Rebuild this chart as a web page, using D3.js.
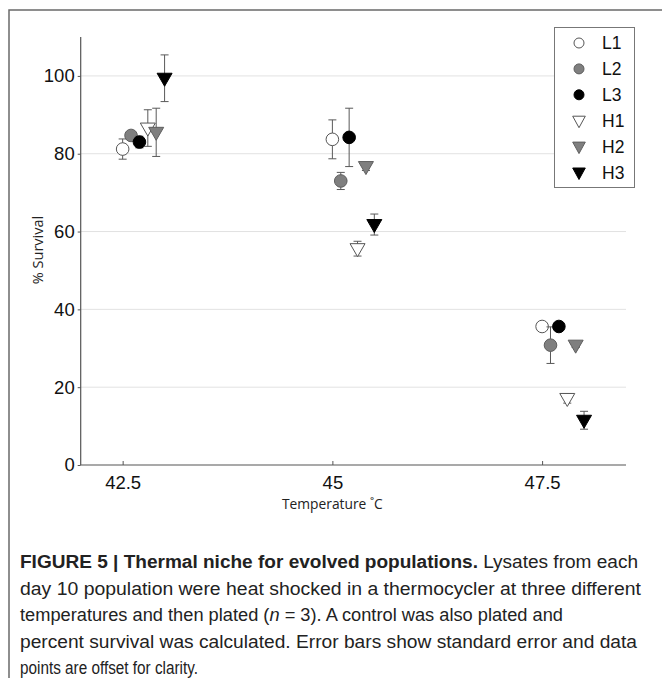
<!DOCTYPE html>
<html>
<head>
<meta charset="utf-8">
<script src="https://cdn.jsdelivr.net/npm/d3@7"></script>
<style>
  html, body { margin: 0; padding: 0; background: #fff; }
  svg { display: block; }
</style>
</head>
<body>
<svg id="chart" width="662" height="678"></svg>
<script>
// ---------- data ----------
const temperatures = [42.5, 45, 47.5];
const seriesNames = ["L1", "L2", "L3", "H1", "H2", "H3"];
const xOffsets = [0, 0.1, 0.2, 0.3, 0.4, 0.5];   // display offsets for clarity
const L1 = [81.2, 83.7, 35.6];
const L2 = [84.7, 73.0, 30.8];
const L3 = [83.0, 84.2, 35.6];
const H1 = [86.6, 55.6, 17.1];
const H2 = [85.5, 76.7, 30.8];
const H3 = [99.4, 61.8, 11.5];
const L1_se = [2.6, 5.0, 0.6];
const L2_se = [1.0, 2.2, 4.7];
const L3_se = [1.5, 7.5, 1.0];
const H1_se = [4.7, 1.9, 1.2];
const H2_se = [6.2, 1.0, 0.6];
const H3_se = [6.0, 2.7, 2.3];
const yTicks = [0, 20, 40, 60, 80, 100];
const xTicks = [42.5, 45, 47.5];
const captionBold = "FIGURE 5 | Thermal niche for evolved populations.";
const captionLines = [
  " Lysates from each",
  "day 10 population were heat shocked in a thermocycler at three different",
  "temperatures and then plated (n = 3). A control was also plated and",
  "percent survival was calculated. Error bars show standard error and data",
  "points are offset for clarity."
];

// ---------- styles ----------
const fills   = {L1: "#ffffff", L2: "#7f7f7f", L3: "#000000", H1: "#ffffff", H2: "#7f7f7f", H3: "#000000"};
const strokes = {L1: "#555555", L2: "#5e5e5e", L3: "#000000", H1: "#555555", H2: "#5e5e5e", H3: "#000000"};
const shapes  = {L1: "circle", L2: "circle", L3: "circle", H1: "tri", H2: "tri", H3: "tri"};

const means = {L1, L2, L3, H1, H2, H3};
const ses = {L1: L1_se, L2: L2_se, L3: L3_se, H1: H1_se, H2: H2_se, H3: H3_se};

const svg = d3.select("#chart");

// outer frame (left + top)
svg.append("path")
  .attr("d", "M9,678 V10 H662")
  .attr("fill", "none").attr("stroke", "#6a6a6a").attr("stroke-width", 1.5);

const x = d3.scaleLinear().domain([42, 48.5]).range([80.7, 626]);
const y = d3.scaleLinear().domain([0, 110]).range([465, 37]);

// gridlines
svg.append("g").selectAll("line")
  .data(yTicks.filter(d => d > 0))
  .join("line")
  .attr("x1", x(42)).attr("x2", x(48.5))
  .attr("y1", d => y(d)).attr("y2", d => y(d))
  .attr("stroke", "#e2e2e2").attr("stroke-width", 1);

// y axis
const yAxis = svg.append("g")
  .attr("transform", `translate(${x(42)},0)`)
  .call(d3.axisLeft(y).tickValues(yTicks).tickFormat(d3.format("d"))
        .tickSizeInner(3).tickSizeOuter(0).tickPadding(3));
// x axis
const xAxis = svg.append("g")
  .attr("transform", `translate(0,${y(0)})`)
  .call(d3.axisBottom(x).tickValues(xTicks).tickFormat(d => String(d))
        .tickSizeInner(-4).tickSizeOuter(0).tickPadding(11));

[yAxis, xAxis].forEach(g => {
  g.select(".domain").attr("stroke", "#555").attr("stroke-width", 1.2);
  g.selectAll(".tick line").attr("stroke", "#555");
  g.selectAll(".tick text")
    .attr("font-family", "'Liberation Sans', Arial, sans-serif")
    .attr("font-size", 18.5).attr("fill", "#111");
});
yAxis.select(".domain").attr("d", `M0,${y(110)}V${y(0)}`);
xAxis.select(".domain").attr("d", `M${x(42)},0H${x(48.5)}`);

// axis titles
svg.append("text")
  .attr("transform", `translate(37,250) rotate(-90)`)
  .attr("text-anchor", "middle").attr("dominant-baseline", "central")
  .attr("font-family", "'Open Sans', sans-serif").attr("font-size", 14.5)
  .attr("fill", "#222")
  .text("% Survival");
svg.append("text")
  .attr("x", x(45)).attr("y", 503)
  .attr("text-anchor", "middle").attr("dominant-baseline", "central")
  .attr("font-family", "'Open Sans', sans-serif").attr("font-size", 13.8)
  .attr("fill", "#222")
  .text("Temperature ˚C");

// marker drawing helper
function triPath(w, top, bottom) {
  return `M${-w},${-top}L${w},${-top}L0,${bottom}Z`;
}
function drawMarker(g, name, cx, cy, big) {
  if (shapes[name] === "circle") {
    g.append("circle").attr("cx", cx).attr("cy", cy).attr("r", big ? 6.3 : 5)
      .attr("fill", fills[name]).attr("stroke", strokes[name]).attr("stroke-width", 1);
  } else {
    g.append("path").attr("transform", `translate(${cx},${cy})`)
      .attr("d", big ? triPath(7.5, 5, 8) : triPath(6.3, 4.5, 7))
      .attr("fill", fills[name]).attr("stroke", strokes[name]).attr("stroke-width", 1)
      .attr("stroke-linejoin", "miter");
  }
}

// points with error bars
const pts = [];
seriesNames.forEach((name, si) => {
  temperatures.forEach((t, ti) => {
    pts.push({name, si, t: t + xOffsets[si], m: means[name][ti], e: ses[name][ti]});
  });
});

seriesNames.forEach(name => {
  pts.filter(p => p.name === name).forEach(p => {
    const cx = x(p.t), y1 = y(p.m + p.e), y0 = y(p.m - p.e);
    const g = svg.append("g");
    g.append("line").attr("x1", cx).attr("x2", cx).attr("y1", y1).attr("y2", y0)
      .attr("stroke", "#595959");
    g.append("line").attr("x1", cx - 4).attr("x2", cx + 4).attr("y1", y1).attr("y2", y1)
      .attr("stroke", "#595959");
    g.append("line").attr("x1", cx - 4).attr("x2", cx + 4).attr("y1", y0).attr("y2", y0)
      .attr("stroke", "#595959");
    drawMarker(g, name, cx, y(p.m), true);
  });
});

// legend
const lg = svg.append("g");
lg.append("rect").attr("x", 554.5).attr("y", 27.5).attr("width", 80).attr("height", 160)
  .attr("fill", "#fff").attr("stroke", "#777").attr("stroke-width", 1);
seriesNames.forEach((name, i) => {
  const cy = 43 + i * 25.9;
  drawMarker(lg, name, 579, cy, false);
  lg.append("text").attr("x", 602).attr("y", cy)
    .attr("dominant-baseline", "central")
    .attr("font-family", "'Liberation Sans', Arial, sans-serif").attr("font-size", 17.5)
    .attr("fill", "#111").text(name);
});

// caption
const capFont = "'Liberation Sans', Arial, sans-serif";
const baselines = [568, 594.5, 621, 647.5, 674];
const lineWidths = [618, 621, 543, 617, 178];
const cap = svg.append("g").attr("font-family", capFont).attr("font-size", 17.5).attr("fill", "#222");
captionLines.forEach((ln, i) => {
  const t = cap.append("text").attr("x", 20).attr("y", baselines[i])
    .attr("textLength", lineWidths[i]).attr("lengthAdjust", "spacingAndGlyphs");
  if (i === 0) {
    t.append("tspan").attr("font-weight", "bold").text(captionBold);
    t.append("tspan").text(ln);
  } else if (i === 2) {
    t.append("tspan").text("temperatures and then plated (");
    t.append("tspan").attr("font-style", "italic").text("n");
    t.append("tspan").text(" = 3). A control was also plated and");
  } else {
    t.text(ln);
  }
});
</script>
</body>
</html>
